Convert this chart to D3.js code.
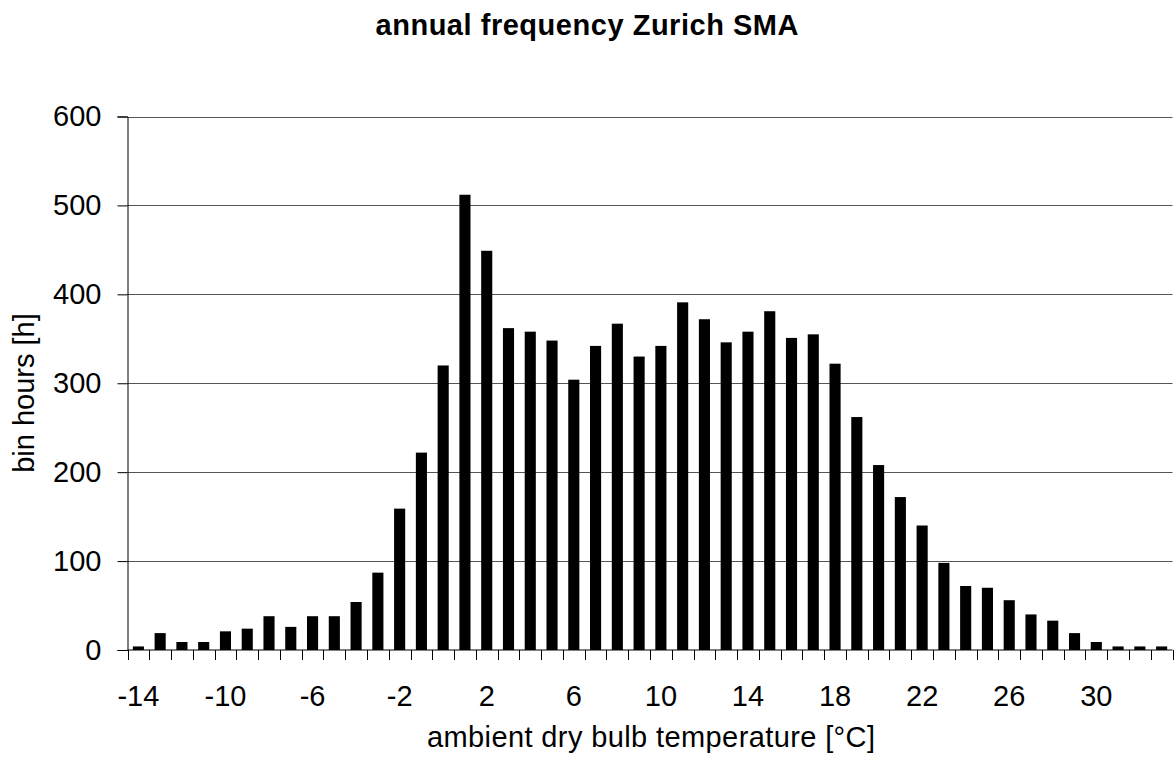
<!DOCTYPE html>
<html>
<head>
<meta charset="utf-8">
<script src="https://cdn.jsdelivr.net/npm/d3@7"></script>
<style>
  html, body { margin: 0; padding: 0; background: #fff; }
  svg { display: block; font-family: "Liberation Sans", Arial, sans-serif; }
</style>
</head>
<body>
<svg id="chart" width="1174" height="762"></svg>
<script>
const temperatures = [-14,-13,-12,-11,-10,-9,-8,-7,-6,-5,-4,-3,-2,-1,0,1,2,3,4,5,6,7,8,9,10,11,12,13,14,15,16,17,18,19,20,21,22,23,24,25,26,27,28,29,30,31,32,33];
const binHours = [4,19,9,9,21,24,38,26,38,38,54,87,159,222,320,512,449,362,358,348,304,342,367,330,342,391,372,346,358,381,351,355,322,262,208,172,140,98,72,70,56,40,33,19,9,4,4,4];
const xTickLabels = [-14,-10,-6,-2,2,6,10,14,18,22,26,30];
const yTickValues = [0,100,200,300,400,500,600];
const titleText = "annual frequency Zurich SMA";
const xAxisTitle = "ambient dry bulb temperature [°C]";
const yAxisTitle = "bin hours [h]";

(function () {
const svg = d3.select("#chart");
const mLeft = 127.5, mRight = 1172.5, mTop = 116.5, mBottom = 650;

const x = d3.scaleBand().domain(temperatures).range([mLeft, mRight]).paddingInner(0.49).paddingOuter(0.245);
const y = d3.scaleLinear().domain([0, 600]).range([mBottom, mTop]);

// gridlines
svg.append("g").selectAll("line").data(yTickValues.filter(v => v > 0)).join("line")
  .attr("x1", mLeft).attr("x2", mRight)
  .attr("y1", d => Math.round(y(d)) + 0.5).attr("y2", d => Math.round(y(d)) + 0.5)
  .attr("stroke", "#555").attr("stroke-width", 1);

// bars
svg.append("g").selectAll("rect").data(temperatures).join("rect")
  .attr("x", (d) => x(d))
  .attr("width", x.bandwidth())
  .attr("y", (d, i) => y(binHours[i]))
  .attr("height", (d, i) => y(0) - y(binHours[i]))
  .attr("fill", "#000");

// y axis
const yAxis = d3.axisLeft(y).tickValues(yTickValues).tickSize(10).tickPadding(16).tickFormat(d3.format("d"));
const yg = svg.append("g").attr("transform", `translate(${mLeft},0)`).call(yAxis);
yg.select(".domain").attr("stroke", "#000");
yg.selectAll(".tick line").attr("stroke", "#000");
yg.selectAll("text").attr("font-size", 29).attr("fill", "#000").attr("font-family", "Liberation Sans, Arial, sans-serif");

// x axis baseline
svg.append("line").attr("x1", mLeft).attr("x2", mRight).attr("y1", mBottom).attr("y2", mBottom).attr("stroke", "#000");

// x boundary ticks
const step = x.step();
const boundaries = temperatures.map(t => x(t) - (step - x.bandwidth()) / 2);
boundaries.push(mRight);
svg.append("g").selectAll("line").data(boundaries).join("line")
  .attr("x1", d => Math.round(d) + 0.5).attr("x2", d => Math.round(d) + 0.5)
  .attr("y1", mBottom).attr("y2", mBottom + 10)
  .attr("stroke", "#000");

// x tick labels
svg.append("g").selectAll("text").data(xTickLabels).join("text")
  .attr("x", d => x(d) + x.bandwidth() / 2)
  .attr("y", 706)
  .attr("text-anchor", "middle")
  .attr("font-size", 29)
  .attr("fill", "#000")
  .text(d => d);

// titles
svg.append("text").attr("x", 587).attr("y", 35).attr("text-anchor", "middle")
  .attr("font-size", 29).attr("font-weight", "bold").attr("fill", "#000")
  .attr("textLength", 423).attr("lengthAdjust", "spacing")
  .text(titleText);

svg.append("text").attr("x", 651).attr("y", 747).attr("text-anchor", "middle")
  .attr("font-size", 29).attr("fill", "#000")
  .attr("textLength", 448).attr("lengthAdjust", "spacing")
  .text(xAxisTitle);

svg.append("text").attr("transform", "translate(34,393) rotate(-90)").attr("text-anchor", "middle")
  .attr("font-size", 29).attr("fill", "#000")
  .text(yAxisTitle);
})();
</script>
</body>
</html>
